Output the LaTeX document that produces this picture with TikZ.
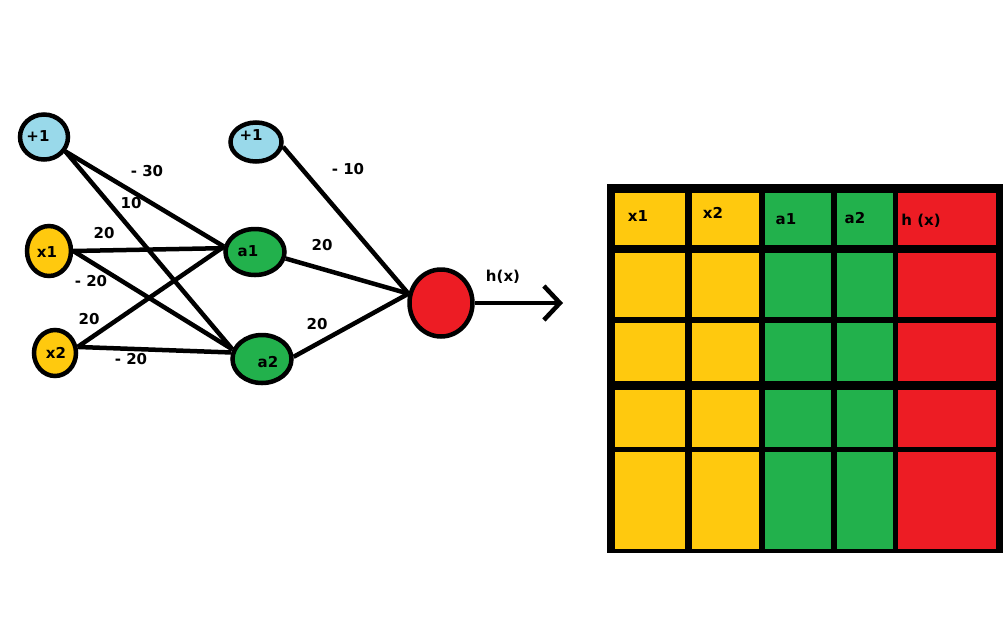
\documentclass[tikz,border=0pt]{standalone}
\usepackage{fontspec}
\setmainfont{DejaVu Sans}
\usetikzlibrary{shapes.geometric,arrows.meta}
\definecolor{lblue}{RGB}{153,217,234}
\definecolor{gold}{RGB}{255,201,14}
\definecolor{pgreen}{RGB}{34,177,76}
\definecolor{pred}{RGB}{237,28,36}
\begin{document}
\begin{tikzpicture}[x=1pt,y=-1pt,
  neuron/.style={ellipse,draw=black,line width=4.5pt,inner sep=0pt},
  edge/.style={draw=black,line width=4.5pt},
  txt/.style={font=\bfseries\fontsize{15}{17}\selectfont,inner sep=0pt}]
\useasboundingbox (0,0) rectangle (1008,630);
\fill[white] (0,0) rectangle (1008,630);

% neurons
\node[neuron,fill=lblue,minimum width=48,minimum height=45] (b1) at (44,137) {};
\node[neuron,fill=gold,minimum width=44,minimum height=50] (x1) at (49,251) {};
\node[neuron,fill=gold,minimum width=42,minimum height=46] (x2) at (55,353) {};
\node[neuron,fill=lblue,minimum width=51,minimum height=39] (b2) at (256,142) {};
\node[neuron,fill=pgreen,minimum width=59,minimum height=46] (a1) at (255,252) {};
\node[neuron,fill=pgreen,minimum width=59,minimum height=48] (a2) at (262,359) {};
\node[neuron,fill=pred,minimum width=63,minimum height=67] (out) at (441,303) {};
\coordinate (tip) at (563,303);

% connectors
\draw[edge] (b1.-34) -- (a1.170);
\draw[edge] (b1.-34) -- (a2.162);
\draw[edge] (x1.east) -- (a1.173);
\draw[edge] (x1.east) -- (a2.162);
\draw[edge] (x2.15) -- (a1.170);
\draw[edge] (x2.15) -- (a2.168);
\draw[edge] (b2.-10) -- (out.164);
\draw[edge] (a1.-12) -- (out.164);
\draw[edge] (a2.4) -- (out.164);
\draw[edge,-{Straight Barb[length=16pt,width=34pt,line width=4.5pt]}] (out.east) -- (tip);

% node texts
\node[txt] (tb1) at (38,136) {+1};
\node[txt] (tx1) at (47,252) {x1};
\node[txt] (tx2) at (56,353) {x2};
\node[txt] (tb2) at (251,135) {+1};
\node[txt] (ta1) at (248,251) {a1};
\node[txt] (ta2) at (268,362) {a2};

% weight labels
\node[txt] (w1) at (147,171) {- 30};
\node[txt] (w2) at (131,203) {10};
\node[txt] (w3) at (104,233) {20};
\node[txt] (w4) at (91,281) {- 20};
\node[txt] (w5) at (89,319) {20};
\node[txt] (w6) at (131,359) {- 20};
\node[txt] (w7) at (348,169) {- 10};
\node[txt] (w8) at (322,245) {20};
\node[txt] (w9) at (317,324) {20};
\node[txt] (hx) at (503,277) {h(x)};

% table
\fill[black] (607,184) rectangle (1003,553);
\foreach \xa/\xb/\c in {615/685/gold, 692/759/gold, 765/831/pgreen, 837/893/pgreen, 898/996/pred}
  \foreach \ya/\yb in {193/245, 253/317, 323/381, 390/447, 452/549}
    \fill[\c] (\xa,\ya) rectangle (\xb,\yb);
\node[txt] (h1) at (638,216) {x1};
\node[txt] (h2) at (713,213) {x2};
\node[txt] (h3) at (786,219) {a1};
\node[txt] (h4) at (855,218) {a2};
\node[txt] (h5) at (921,221) {h (x)};
\end{tikzpicture}
\end{document}
